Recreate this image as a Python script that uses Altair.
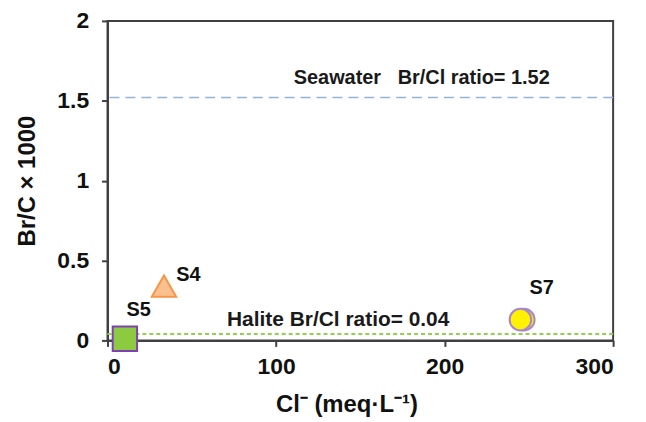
import altair as alt
import pandas as pd

# Data
samples = ["S4", "S5", "S7", "S7"]
cl_meq = [33.5, 10.3, 247.0, 245.0]
br_cl = [0.34, 0.01, 0.13, 0.13]

label_text = ["S4", "S5", "S7"]
label_x = [40.8, 11.2, 250.4]
label_y = [0.41, 0.19, 0.33]

NB = "\u00a0"
ref_names = ["Seawater" + NB * 3 + "Br/Cl ratio= 1.52", "Halite Br/Cl ratio= 0.04"]
ref_values = [1.52, 0.04]
ref_label_x = [110.5, 70.9]
ref_label_y = [1.645, 0.125]
ref_font = [20, 21]

x_ticks = [0, 100, 200, 300]
y_ticks = [0, 0.5, 1, 1.5, 2]

pts = pd.DataFrame({"sample": samples, "cl": cl_meq, "br": br_cl})
labels = pd.DataFrame({"t": label_text, "x": label_x, "y": label_y})
refs = pd.DataFrame({"name": ref_names, "v": ref_values, "lx": ref_label_x, "ly": ref_label_y, "fs": ref_font})

FONT = "Liberation Sans"
INK = "#111111"

xscale = alt.Scale(domain=[0, 300], nice=False, zero=False)
yscale = alt.Scale(domain=[0, 2], nice=False)

xenc = alt.X("cl:Q", scale=xscale,
             axis=alt.Axis(values=x_ticks, title="Cl⁻ (meq·L⁻¹)", grid=False, format="d",
                           labelFontSize=23, labelFontWeight="bold", labelFont=FONT,
                           titleFontSize=24, titleFontWeight="bold", titleFont=FONT,
                           labelPadding=9, titlePadding=14, tickSize=6,
                           titleX=240, titleAlign="center",
                           domainColor="#404040", domainWidth=2, tickColor="#404040", tickWidth=2,
                           labelColor=INK, titleColor=INK))
yenc = alt.Y("br:Q", scale=yscale,
             axis=alt.Axis(values=y_ticks, title="Br/C × 1000", grid=False, format="~g",
                           labelFontSize=23, labelFontWeight="bold", labelFont=FONT,
                           titleFontSize=24, titleFontWeight="bold", titleFont=FONT,
                           labelPadding=13, titlePadding=17, tickSize=6,
                           domainColor="#404040", domainWidth=2, tickColor="#404040", tickWidth=2,
                           labelColor=INK, titleColor=INK))

sea_rule = alt.Chart(refs.iloc[[0]]).mark_rule(color="#95B3D7", strokeWidth=1.5, strokeDash=[10, 6]).encode(
    y=alt.Y("v:Q", scale=yscale))
hal_rule = alt.Chart(refs.iloc[[1]]).mark_rule(color="#92D050", strokeWidth=2, strokeDash=[4, 3]).encode(
    y=alt.Y("v:Q", scale=yscale))

ref_text = alt.Chart(refs).mark_text(align="left", baseline="middle",
                                     fontWeight="bold", font=FONT, color="#1a1a1a").encode(
    x=alt.X("lx:Q", scale=xscale), y=alt.Y("ly:Q", scale=yscale), text="name:N",
    size=alt.Size("fs:Q", scale=None, legend=None))

s4 = alt.Chart(pts[pts["sample"] == "S4"]).mark_point(shape="triangle-up", filled=True, size=600,
                                                    fill="#FAC090", stroke="#F79646", strokeWidth=2, opacity=1).encode(x=xenc, y=yenc)
s5 = alt.Chart(pts[pts["sample"] == "S5"]).mark_point(shape="square", filled=True, size=600,
                                                    fill="#8CCB3F", stroke="#8040B0", strokeWidth=2, opacity=1).encode(x=xenc, y=yenc)
s7 = alt.Chart(pts[pts["sample"] == "S7"]).mark_point(shape="circle", filled=True, size=470,
                                                    fill="#FFF200", stroke="#A985CC", strokeWidth=2, opacity=1).encode(x=xenc, y=yenc)

lab = alt.Chart(labels).mark_text(align="left", baseline="middle", fontSize=20, fontWeight="bold",
                                  font=FONT, color=INK).encode(
    x=alt.X("x:Q", scale=xscale), y=alt.Y("y:Q", scale=yscale), text="t:N")

chart = alt.layer(hal_rule, sea_rule, ref_text, s5, s4, s7, lab).properties(
    width=508, height=321,
    background="white",
    autosize=alt.AutoSizeParams(type="none"),
    padding={"left": 100, "top": 12, "right": 25, "bottom": 80},
).configure_view(stroke="#404040", strokeWidth=2)

chart.save("out.html", embed_options={"renderer": "svg", "actions": False})
